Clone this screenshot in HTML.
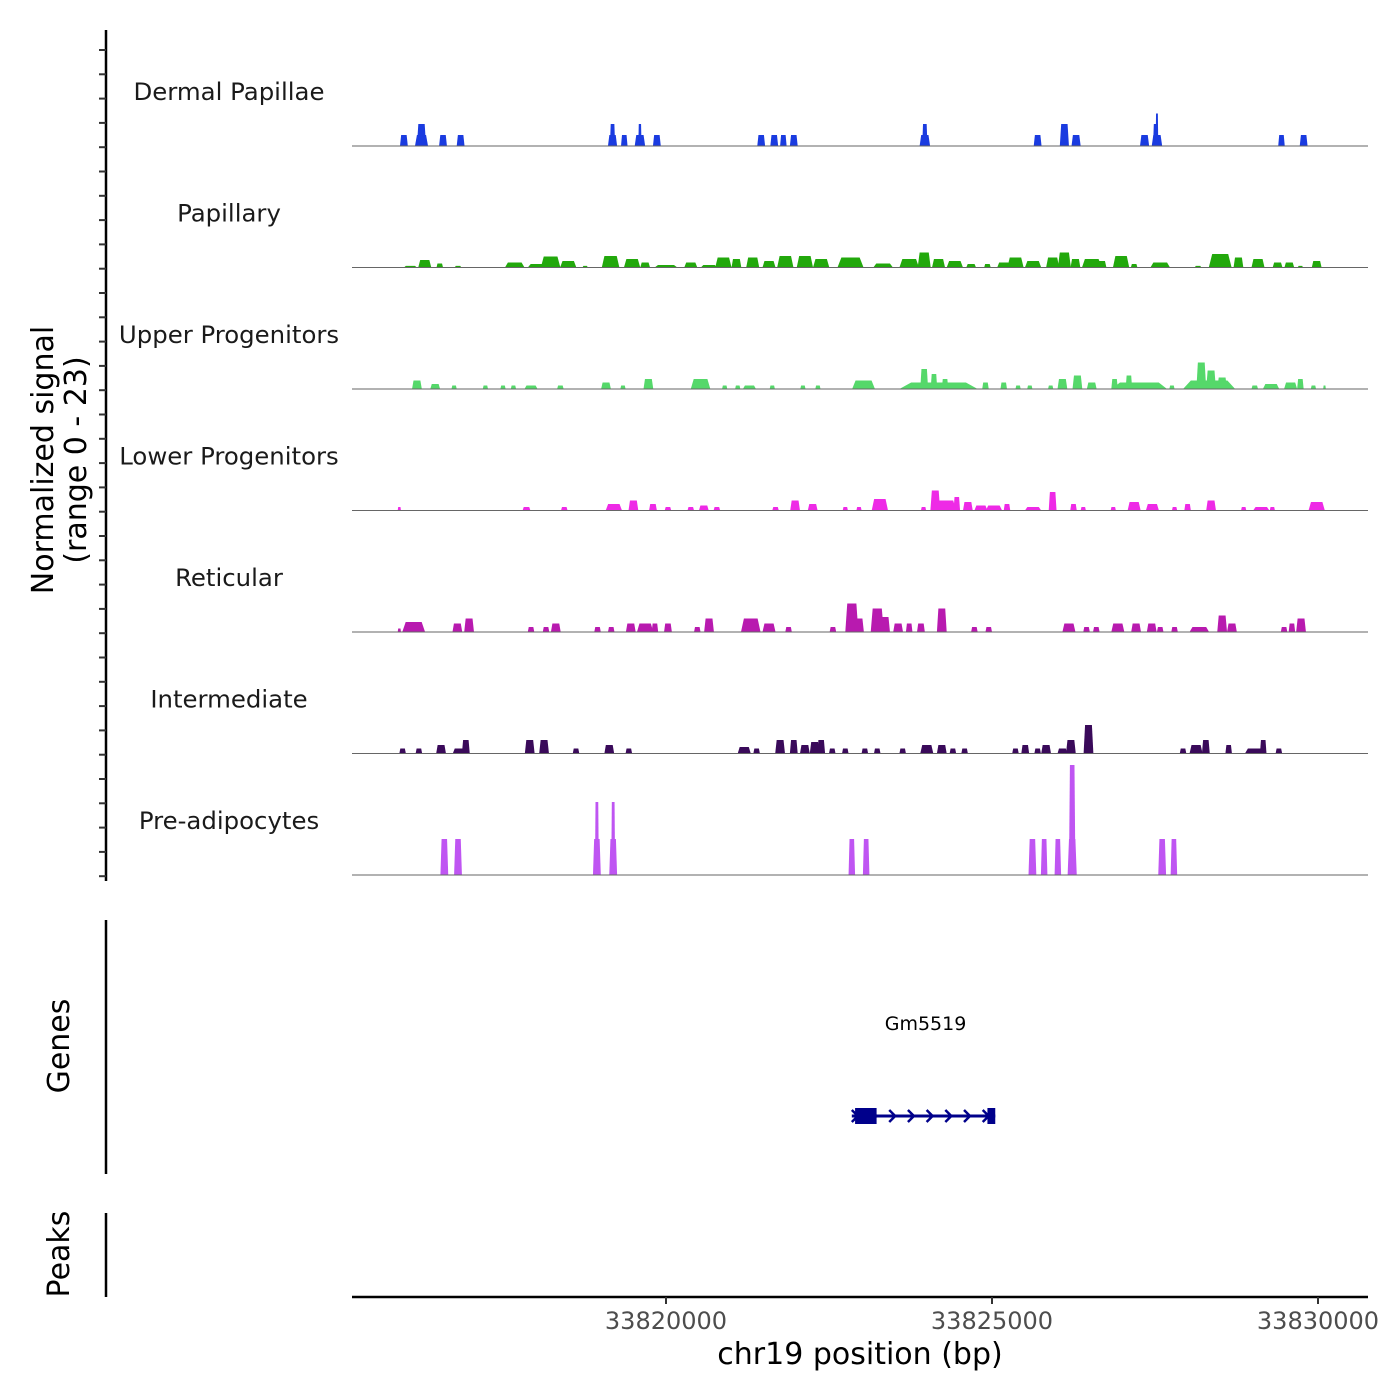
<!DOCTYPE html>
<html><head><meta charset="utf-8"><style>
html,body{margin:0;padding:0;background:#fff;}
svg{display:block;font-family:"DejaVu Sans","Liberation Sans",sans-serif;}
</style></head><body>
<svg id="chart" width="1400" height="1400" viewBox="0 0 1400 1400" xmlns="http://www.w3.org/2000/svg">
<g id="tracks"></g>
<g id="axes"></g>
</svg>
<script>
// Region origin (kb); positions below are kb offsets from this origin: [position, span, signal]
const regionStartKb = 33815;
const trackNames = ["Dermal Papillae","Papillary","Upper Progenitors","Lower Progenitors","Reticular","Intermediate","Pre-adipocytes"];
const trackColors = ["#1a3be0","#22a80c","#55d86a","#ee2ae6","#b81aaf","#3a0a5a","#bf55f2"];
const xTicks = [33820000, 33825000, 33830000];
const signalRange = [0, 23];
const dermalPapillae = [[0.98,0.12,2.2],[1.25,0.2,2.2],[1.25,0.14,4.4],[1.58,0.12,2.2],[1.85,0.12,2.2],[4.18,0.14,2.2],[4.18,0.08,4.4],[4.36,0.1,2.2],[4.60,0.16,2.2],[4.60,0.05,4.4],[4.86,0.12,2.2],[6.46,0.12,2.2],[6.66,0.12,2.2],[6.80,0.1,2.2],[6.96,0.12,2.2],[8.97,0.16,2.2],[8.97,0.08,4.4],[10.70,0.12,2.2],[11.11,0.14,4.4],[11.29,0.14,2.2],[12.34,0.14,2.2],[12.53,0.16,2.2],[12.51,0.08,4.4],[12.53,0.04,6.5],[14.44,0.1,2.2],[14.78,0.12,2.2]];
const papillary = [[1.08,0.2,0.33],[1.30,0.2,1.5],[1.53,0.1,0.8],[1.81,0.1,0.33],[2.68,0.3,1.0],[3.03,0.3,0.7],[3.23,0.3,2.2],[3.5,0.25,1.3],[3.76,0.08,0.33],[4.15,0.27,2.3],[4.48,0.25,1.7],[4.68,0.15,1.0],[5.0,0.35,0.5],[5.38,0.2,1.0],[5.66,0.25,0.5],[5.88,0.25,2.0],[6.08,0.15,1.7],[6.33,0.2,2.0],[6.58,0.2,1.3],[6.83,0.25,2.3],[7.13,0.25,2.3],[7.38,0.25,1.7],[7.83,0.4,2.0],[8.33,0.3,0.8],[8.73,0.3,1.7],[8.96,0.2,3.0],[9.18,0.2,1.7],[9.43,0.25,1.3],[9.68,0.15,0.7],[9.93,0.1,0.7],[10.18,0.2,1.0],[10.36,0.25,2.0],[10.63,0.25,1.3],[10.93,0.2,2.0],[11.11,0.2,3.0],[11.28,0.15,1.7],[11.53,0.3,1.7],[11.68,0.15,1.3],[11.98,0.25,2.3],[12.18,0.1,0.7],[12.58,0.3,1.0],[13.16,0.1,0.33],[13.5,0.35,2.7],[13.78,0.15,2.0],[14.08,0.2,1.7],[14.38,0.15,1.0],[14.56,0.15,1.0],[14.73,0.08,0.33],[14.98,0.15,1.3]];
const upperProgenitors = [[1.18,0.15,1.7],[1.46,0.15,1.0],[1.75,0.08,0.7],[2.23,0.08,0.7],[2.50,0.08,0.7],[2.66,0.08,0.7],[2.93,0.2,0.7],[3.38,0.1,0.7],[4.08,0.15,1.3],[4.34,0.08,0.7],[4.73,0.15,2.0],[5.53,0.3,2.0],[5.90,0.08,0.7],[6.10,0.08,0.7],[6.28,0.2,0.7],[6.63,0.08,0.7],[7.10,0.08,0.7],[7.33,0.08,0.7],[8.03,0.35,1.7],[9.18,1.2,1.3],[8.96,0.12,4.0],[9.11,0.1,3.0],[9.28,0.1,2.0],[9.9,0.1,1.3],[10.18,0.1,1.3],[10.40,0.08,0.7],[10.58,0.08,0.7],[10.90,0.08,0.7],[11.08,0.15,2.0],[11.31,0.15,2.7],[11.53,0.15,1.3],[12.26,0.85,1.3],[11.88,0.1,2.0],[12.10,0.1,2.7],[12.76,0.08,0.7],[13.33,0.8,1.7],[13.21,0.15,5.3],[13.36,0.15,3.7],[13.53,0.15,2.3],[14.03,0.1,0.7],[14.28,0.25,1.0],[14.58,0.2,1.3],[14.73,0.1,2.0],[14.93,0.08,0.7],[15.10,0.04,0.7]];
const lowerProgenitors = [[0.91,0.05,0.7],[2.86,0.12,0.7],[3.44,0.1,0.7],[4.2,0.25,1.3],[4.5,0.15,2.0],[4.8,0.12,1.3],[5.03,0.1,0.7],[5.38,0.1,0.7],[5.58,0.15,1.0],[5.78,0.1,0.7],[6.68,0.1,0.7],[6.98,0.15,2.0],[7.25,0.15,1.3],[7.75,0.08,0.7],[7.96,0.08,0.7],[8.28,0.25,2.3],[8.95,0.08,0.7],[9.13,0.15,4.0],[9.3,0.3,2.0],[9.46,0.1,2.7],[9.63,0.15,1.7],[9.83,0.2,1.0],[10.03,0.25,1.0],[10.23,0.1,1.3],[10.63,0.25,0.7],[10.93,0.12,3.7],[11.25,0.1,1.3],[11.40,0.08,0.7],[11.86,0.08,0.7],[12.18,0.2,1.7],[12.46,0.2,1.3],[12.80,0.08,0.7],[13.0,0.1,1.3],[13.36,0.15,2.0],[13.86,0.08,0.7],[14.13,0.25,0.7],[14.30,0.08,0.7],[14.98,0.25,1.7]];
const reticular = [[0.91,0.05,0.7],[1.13,0.35,2.0],[1.80,0.15,1.7],[1.98,0.15,2.7],[2.93,0.1,1.0],[3.16,0.1,1.0],[3.31,0.15,1.7],[3.95,0.1,1.0],[4.16,0.1,1.0],[4.46,0.15,1.7],[4.68,0.25,1.7],[4.83,0.1,1.7],[5.03,0.12,1.7],[5.48,0.1,1.0],[5.66,0.15,2.7],[6.30,0.3,2.7],[6.58,0.2,1.7],[6.88,0.1,1.0],[7.56,0.1,1.0],[7.85,0.2,5.7],[7.96,0.15,2.7],[8.24,0.2,4.7],[8.36,0.15,3.0],[8.56,0.15,1.7],[8.73,0.1,1.7],[8.91,0.12,1.7],[9.23,0.15,4.7],[9.73,0.1,1.0],[9.95,0.1,1.0],[11.18,0.2,1.7],[11.45,0.1,1.0],[11.60,0.1,1.0],[11.93,0.2,1.7],[12.21,0.15,1.7],[12.45,0.15,1.7],[12.58,0.1,1.0],[12.80,0.1,1.0],[13.18,0.3,1.0],[13.53,0.15,3.3],[13.68,0.15,1.7],[14.48,0.1,1.0],[14.60,0.1,1.7],[14.74,0.15,2.7]];
const intermediate = [[0.96,0.1,1.0],[1.21,0.1,1.0],[1.55,0.15,1.7],[1.83,0.2,1.0],[1.93,0.12,2.7],[2.91,0.15,2.7],[3.13,0.15,2.7],[3.62,0.1,1.0],[4.13,0.15,1.7],[4.43,0.1,1.0],[6.20,0.2,1.3],[6.39,0.1,1.0],[6.75,0.15,2.7],[6.96,0.12,2.7],[7.13,0.15,1.7],[7.28,0.15,2.3],[7.38,0.12,2.7],[7.55,0.1,1.0],[7.75,0.1,1.0],[8.05,0.1,1.0],[8.24,0.1,1.0],[8.63,0.1,1.0],[9.0,0.2,1.7],[9.23,0.15,1.7],[9.40,0.1,1.0],[9.58,0.1,1.0],[10.36,0.1,1.0],[10.51,0.12,1.7],[10.70,0.1,1.0],[10.83,0.15,1.7],[11.08,0.15,1.0],[11.21,0.15,2.7],[11.48,0.15,5.7],[12.93,0.1,1.0],[13.13,0.2,1.7],[13.28,0.12,2.7],[13.63,0.1,1.7],[14.03,0.3,1.0],[14.16,0.1,2.7],[14.40,0.1,1.0]];
const preAdipocytes = [[1.60,0.12,7.2],[1.81,0.12,7.2],[3.94,0.12,7.2],[3.94,0.06,14.6],[4.19,0.12,7.2],[4.19,0.06,14.6],[7.85,0.1,7.2],[8.07,0.1,7.2],[10.62,0.12,7.2],[10.80,0.1,7.2],[11.01,0.1,7.2],[11.23,0.14,7.2],[11.23,0.1,22],[12.61,0.12,7.2],[12.79,0.1,7.2]];
const trackData = [dermalPapillae,papillary,upperProgenitors,lowerProgenitors,reticular,intermediate,preAdipocytes];
const geneName = "Gm5519";
const geneStartBp = 33822850, geneEndBp = 33825050;
const geneExons = [[33822900,33823230],[33824930,33825050]];

const NS="http://www.w3.org/2000/svg";
const X0=352, X1=1368, BP0=33815184, BP1=33830767;
function xScale(bp){return X0+(bp-BP0)/(BP1-BP0)*(X1-X0);}
function kbToBp(k){return (regionStartKb+k)*1000;}
const PX_PER_UNIT=115/(signalRange[1]-signalRange[0]);
function yScale(base,v){return base-(v-signalRange[0])*PX_PER_UNIT;}
function mk(tag,attrs,parent){const e=document.createElementNS(NS,tag);for(const k in attrs)e.setAttribute(k,attrs[k]);parent.appendChild(e);return e;}
const tracksG=document.getElementById('tracks');
const axesG=document.getElementById('axes');
const baselines=[146,267.5,389,510.5,632,753.5,875];

trackData.forEach((peaks,i)=>{
  const base=baselines[i];
  const g=mk('g',{},tracksG);
  
  
  peaks.forEach(p=>{
    const c=kbToBp(p[0]), w=p[1]*1000;
    const xl=xScale(c-w/2), xr=xScale(c+w/2);
    const inset=(xr-xl)*0.15;
    const yt=yScale(base,p[2]);
    const poly=mk('polygon',{points:`${xl},${base} ${xl+inset},${yt} ${xr-inset},${yt} ${xr},${base}`,fill:trackColors[i]},g);
    
    
  });
  const bl=mk('line',{x1:X0,x2:X1,y1:base,y2:base,stroke:'#666','stroke-width':1},g);
  
  
  const lab=mk('text',{x:229,y:base-46,'text-anchor':'middle','font-size':24.4,fill:'#1a1a1a'},g);
  lab.textContent=trackNames[i];
  
  
});

let l=mk('line',{x1:106,x2:106,y1:30,y2:881,stroke:'#000','stroke-width':2.5},axesG);


for(let y=50;y<=880;y+=24.3){
  const t=mk('line',{x1:99,x2:106,y1:y,y2:y,stroke:'#333','stroke-width':2},axesG);
  
  
}
let t1=mk('text',{x:0,y:0,'text-anchor':'middle','font-size':30,fill:'#000',transform:'translate(53,460) rotate(-90)'},axesG);
t1.textContent='Normalized signal';


let t2=mk('text',{x:0,y:0,'text-anchor':'middle','font-size':30,fill:'#000',transform:'translate(86,460) rotate(-90)'},axesG);
t2.textContent='(range 0 - 23)';



l=mk('line',{x1:106,x2:106,y1:920,y2:1174,stroke:'#000','stroke-width':2.5},axesG);


let gt=mk('text',{x:0,y:0,'text-anchor':'middle','font-size':30,fill:'#000',transform:'translate(69,1046) rotate(-90)'},axesG);
gt.textContent='Genes';


const gg=mk('g',{},axesG);


const gx0=xScale(geneStartBp), gx1=xScale(geneEndBp);
mk('line',{x1:gx0,x2:gx1,y1:1116,y2:1116,stroke:'#00008B','stroke-width':3},gg);
for(let x=gx0+3;x<gx1-5;x+=18.7){
  mk('polyline',{points:`${x-3},${1110} ${x+3},${1116} ${x-3},${1122}`,fill:'none',stroke:'#00008B','stroke-width':2.5},gg);
}
geneExons.forEach(e=>{
  const r=mk('rect',{x:xScale(e[0]),y:1108,width:xScale(e[1])-xScale(e[0]),height:16,fill:'#00008B'},gg);
  
  
});
const gl=mk('text',{x:(gx0+gx1)/2+2,y:1030,'text-anchor':'middle','font-size':19,fill:'#000'},gg);
gl.textContent=geneName;



l=mk('line',{x1:106,x2:106,y1:1213,y2:1297,stroke:'#000','stroke-width':2.5},axesG);


let pt=mk('text',{x:0,y:0,'text-anchor':'middle','font-size':30,fill:'#000',transform:'translate(69,1254) rotate(-90)'},axesG);
pt.textContent='Peaks';



l=mk('line',{x1:X0,x2:X1,y1:1297,y2:1297,stroke:'#000','stroke-width':2.5},axesG);


xTicks.forEach(v=>{
  const x=xScale(v);
  const tk=mk('line',{x1:x,x2:x,y1:1297,y2:1304,stroke:'#333','stroke-width':2},axesG);
  
  
  const tl=mk('text',{x:x,y:1329,'text-anchor':'middle','font-size':24,fill:'#4d4d4d'},axesG);
  tl.textContent=String(v);
  
  
});
const xt=mk('text',{x:860,y:1364,'text-anchor':'middle','font-size':30,fill:'#000'},axesG);
xt.textContent='chr19 position (bp)';


</script>
</body></html>
